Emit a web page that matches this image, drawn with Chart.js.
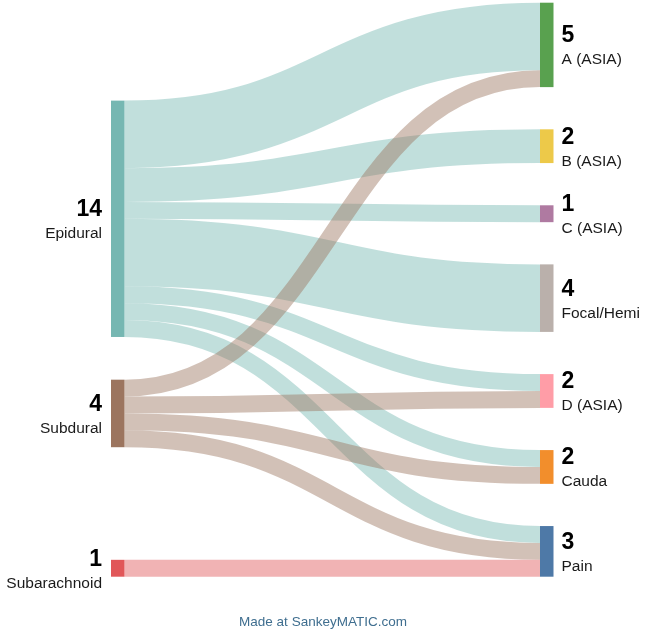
<!DOCTYPE html>
<html>
<head>
<meta charset="utf-8">
<script src="https://cdn.jsdelivr.net/npm/chart.js@4.4.1/dist/chart.umd.min.js"></script>
<style>
  html, body { margin: 0; padding: 0; background: #fff; }
  #wrap { width: 646px; height: 633px; position: relative; }
</style>
</head>
<body>
<div id="wrap"><canvas id="sankey"></canvas></div>
<script>
// nodes
const sources = ['Epidural', 'Subdural', 'Subarachnoid'];
const targets = ['A (ASIA)', 'B (ASIA)', 'C (ASIA)', 'Focal/Hemi', 'D (ASIA)', 'Cauda', 'Pain'];

// flows (from -> to, amount)
const flowFrom = ['Epidural', 'Epidural', 'Epidural', 'Epidural', 'Epidural', 'Epidural', 'Epidural',
                  'Subdural', 'Subdural', 'Subdural', 'Subdural',
                  'Subarachnoid'];
const flowTo = ['A (ASIA)', 'B (ASIA)', 'C (ASIA)', 'Focal/Hemi', 'D (ASIA)', 'Cauda', 'Pain',
                'A (ASIA)', 'D (ASIA)', 'Cauda', 'Pain',
                'Pain'];
const flowValue = [4, 2, 1, 4, 1, 1, 1,
                   1, 1, 1, 1,
                   1];

// colours (tableau10, like SankeyMATIC)
const sourceColors = ['#76b7b2', '#9c755f', '#e15759'];
const targetColors = ['#59a14f', '#edc949', '#af7aa1', '#bab0ab', '#ff9da7', '#f28e2c', '#4e79a7'];

// layout, in flow units
const leftTops = [5.8, 22.33, 33];
const rightGap = 2.5;
const nodeWidth = 13.5;
const flowOpacity = 0.45;

const total = (name, key) => flowValue.reduce((s, v, i) => s + (key[i] === name ? v : 0), 0);
const sourceTotals = sources.map(s => total(s, flowFrom));
const targetTotals = targets.map(t => total(t, flowTo));

// stack right column
const rightTops = [];
let acc = 0;
targetTotals.forEach((t, i) => {
    rightTops.push(acc);
    acc += t + (i < targetTotals.length - 1 ? rightGap : 0);
});
const yMax = acc;

function rgba(hex, a) {
    const n = parseInt(hex.slice(1), 16);
    return `rgba(${(n >> 16) & 255}, ${(n >> 8) & 255}, ${n & 255}, ${a})`;
}

const sankeyPlugin = {
    id: 'sankey',
    afterDatasetsDraw(chart) {
        const { ctx, scales: { x, y } } = chart;
        const unit = Math.abs(y.getPixelForValue(1) - y.getPixelForValue(0));
        const xL = x.getPixelForValue(0);
        const xR = x.getPixelForValue(1);

        // slot offsets
        const outUsed = sources.map(() => 0);
        const inUsed = targets.map(() => 0);
        const flows = flowValue.map((v, i) => ({ s: sources.indexOf(flowFrom[i]), t: targets.indexOf(flowTo[i]), v }));
        // source slots: in target order
        sources.forEach((_, si) => {
            flows.filter(f => f.s === si).sort((a, b) => a.t - b.t).forEach(f => {
                f.y0 = leftTops[si] + outUsed[si] + f.v / 2;
                outUsed[si] += f.v;
            });
        });
        // target slots: in source order
        targets.forEach((_, ti) => {
            flows.filter(f => f.t === ti).sort((a, b) => a.s - b.s).forEach(f => {
                f.y1 = rightTops[ti] + inUsed[ti] + f.v / 2;
                inUsed[ti] += f.v;
            });
        });

        ctx.save();
        // flows
        const x0 = xL + nodeWidth;
        const x1 = xR - nodeWidth;
        const xm = (x0 + x1) / 2;
        flows.forEach(f => {
            const py0 = y.getPixelForValue(f.y0);
            const py1 = y.getPixelForValue(f.y1);
            ctx.beginPath();
            ctx.moveTo(x0, py0);
            ctx.bezierCurveTo(xm, py0, xm, py1, x1, py1);
            ctx.lineWidth = f.v * unit;
            ctx.lineCap = 'butt';
            ctx.strokeStyle = rgba(sourceColors[f.s], flowOpacity);
            ctx.stroke();
        });

        // nodes
        sources.forEach((s, i) => {
            const top = y.getPixelForValue(leftTops[i]);
            const bot = y.getPixelForValue(leftTops[i] + sourceTotals[i]);
            ctx.fillStyle = sourceColors[i];
            ctx.fillRect(xL, top, nodeWidth, bot - top);
        });
        targets.forEach((t, i) => {
            const top = y.getPixelForValue(rightTops[i]);
            const bot = y.getPixelForValue(rightTops[i] + targetTotals[i]);
            ctx.fillStyle = targetColors[i];
            ctx.fillRect(x1, top, nodeWidth, bot - top);
        });

        // labels
        const numFont = 'bold 23px "Liberation Sans", Arial, Helvetica, sans-serif';
        const nameFont = '15.5px "Liberation Sans", Arial, Helvetica, sans-serif';
        ctx.textBaseline = 'alphabetic';
        const label = (name, value, tx, cy, align) => {
            ctx.textAlign = align;
            ctx.fillStyle = '#000';
            ctx.font = numFont;
            ctx.fillText(String(value), tx, cy - 2.5);
            ctx.fillStyle = '#1a1a1a';
            ctx.font = nameFont;
            ctx.fillText(name, tx, cy + 19.5);
        };
        sources.forEach((s, i) => {
            const cy = y.getPixelForValue(leftTops[i] + sourceTotals[i] / 2);
            label(s, sourceTotals[i], xL - 9, cy, 'right');
        });
        targets.forEach((t, i) => {
            const cy = y.getPixelForValue(rightTops[i] + targetTotals[i] / 2);
            label(t, targetTotals[i], xR + 8, cy, 'left');
        });

        // credit line
        ctx.textAlign = 'center';
        ctx.fillStyle = '#3f6e8f';
        ctx.font = '13.5px "Liberation Sans", Arial, Helvetica, sans-serif';
        ctx.fillText('Made at SankeyMATIC.com', chart.width / 2, 625.5);
        ctx.restore();
    }
};

new Chart(document.getElementById('sankey'), {
    type: 'scatter',
    data: { datasets: [] },
    options: {
        responsive: true,
        maintainAspectRatio: false,
        animation: false,
        layout: { padding: { left: 111, right: 92.5, top: 2.7, bottom: 56.3 } },
        scales: {
            x: { type: 'linear', min: 0, max: 1, display: false },
            y: { type: 'linear', min: 0, max: yMax, reverse: true, display: false }
        },
        plugins: {
            legend: { display: false },
            tooltip: { enabled: false }
        }
    },
    plugins: [sankeyPlugin]
});
</script>
</body>
</html>
